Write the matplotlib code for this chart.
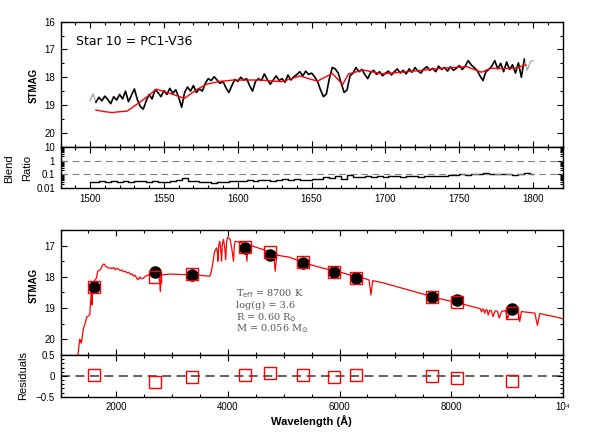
import numpy as np
import matplotlib
matplotlib.use('Agg')
import matplotlib.pyplot as plt
from matplotlib.ticker import MultipleLocator, FixedLocator, LogLocator, NullFormatter, FixedFormatter, FuncFormatter

plt.rcParams['font.family'] = ['Liberation Sans', 'DejaVu Sans']
plt.rcParams['axes.linewidth'] = 1.0

# ---------------- data ----------------
# UV spectrum (STMAG), 2 A sampling starting at 1500 A
spec_start = 1500
spec_step = 2
spec_mag = [18.85, 18.60, 18.90, 18.72, 18.85, 18.68, 18.80, 18.95, 18.70, 18.82,
            18.62, 18.78, 18.50, 18.88, 18.65, 18.42, 18.80, 19.05, 19.15, 18.85,
            18.62, 18.78, 18.45, 18.55, 18.70, 18.48, 18.62, 18.40, 18.58, 18.45,
            18.72, 19.08, 18.55, 18.35, 18.50, 18.30, 18.55, 18.42, 18.50, 18.22,
            18.05, 18.12, 17.98, 18.10, 18.22, 18.15, 18.38, 18.55, 18.30, 18.08,
            18.15, 18.00, 18.10, 18.05, 18.30, 18.50, 18.15, 18.05, 18.12, 17.88,
            18.08, 18.25, 18.10, 17.95, 18.12, 18.05, 18.18, 17.92, 18.10, 17.98,
            17.90, 17.80, 17.95, 17.78, 17.90, 17.85, 17.98, 18.15, 18.45, 18.70,
            18.60, 18.05, 17.65, 17.70, 17.85, 18.20, 18.55, 18.45, 17.95, 17.85,
            17.65, 17.80, 17.72, 17.90, 18.05, 17.82, 17.75, 17.90, 17.80, 17.95,
            17.85, 17.78, 17.92, 17.80, 17.70, 17.85, 17.75, 17.88, 17.70, 17.82,
            17.65, 17.78, 17.85, 17.70, 17.62, 17.75, 17.68, 17.80, 17.60, 17.72,
            17.65, 17.78, 17.62, 17.75, 17.68, 17.58, 17.72, 17.60, 17.40, 17.55,
            17.65, 17.75, 17.95, 18.12, 17.80, 17.72, 17.60, 17.40, 17.70, 17.50,
            17.80, 17.45, 17.72, 17.55, 17.85, 17.48, 18.00, 17.35, 17.75, 17.45,
            17.40]
good_range = (1504, 1794)

# model in UV panel
uvmod_wave = [1504, 1510, 1515, 1520, 1525, 1535, 1545, 1554, 1564, 1572, 1579, 1588,
              1597, 1615, 1630, 1642, 1648, 1654, 1664, 1671, 1675, 1685, 1698, 1710,
              1721, 1737, 1755, 1765, 1771, 1787, 1795]
uvmod_mag = [19.18, 19.24, 19.27, 19.24, 19.22, 18.85, 18.43, 18.58, 18.76, 18.45, 18.25, 18.15,
             18.10, 18.10, 18.16, 17.95, 18.05, 18.14, 17.86, 18.26, 17.88, 17.74, 17.88, 17.82,
             17.77, 17.68, 17.62, 17.82, 17.68, 17.68, 17.56]

# blend ratio, 4 A sampling starting at 1500 A
blend_start = 1500
blend_step = 4
blend_ratio = [0.030, 0.028, 0.033, 0.030, 0.035, 0.031, 0.034, 0.029, 0.036, 0.032,
               0.030, 0.034, 0.031, 0.029, 0.033, 0.038, 0.055, 0.036, 0.032, 0.030,
               0.028, 0.026, 0.030, 0.027, 0.032, 0.036, 0.033, 0.040, 0.034, 0.038,
               0.042, 0.036, 0.040, 0.044, 0.038, 0.045, 0.042, 0.040, 0.048, 0.050,
               0.070, 0.060, 0.075, 0.050, 0.085, 0.070, 0.065, 0.072, 0.068, 0.075,
               0.070, 0.078, 0.072, 0.065, 0.074, 0.080, 0.070, 0.078, 0.075, 0.082,
               0.078, 0.095, 0.090, 0.100, 0.092, 0.110, 0.100, 0.120, 0.105, 0.115,
               0.100, 0.112, 0.098, 0.115, 0.125, 0.110]

# model SED
sed_wave = [1310, 1330, 1345, 1360, 1375, 1390, 1410, 1440, 1470, 1500, 1525, 1535, 1550,
            1560, 1567, 1572, 1594, 1620, 1643, 1667, 1690, 1715, 1745, 1774, 1790, 1804,
            1830, 1860, 1893, 1920, 1950, 1982, 2010, 2040, 2071, 2100, 2130, 2160, 2191,
            2220, 2250, 2280, 2309, 2340, 2370, 2397, 2420, 2450, 2487, 2520, 2560, 2606,
            2650, 2700, 2760, 2780, 2790, 2800, 2843, 2963, 3100, 3300, 3500, 3676, 3700,
            3734, 3760, 3795, 3810, 3820, 3835, 3854, 3870, 3886, 3900, 3920, 3945, 3960,
            3975, 3993, 4010, 4040, 4070, 4100, 4115, 4130, 4250, 4320, 4340, 4360, 4400,
            4550, 4687, 4820, 4848, 4875, 4890, 5100, 5280, 5500, 5700, 5980, 6200, 6450,
            6530, 6563, 6595, 6800, 7000, 7400, 7775, 8100, 8488, 8525, 8545, 8565, 8580,
            8600, 8625, 8645, 8665, 8690, 8720, 8750, 8790, 8830, 8863, 8905, 8975, 9015,
            9060, 9150, 9200, 9229, 9260, 9350, 9500, 9546, 9590, 9700, 9850, 10000]
sed_mag = [20.55, 20.20, 20.00, 20.05, 20.12, 19.90, 19.65, 19.50, 19.28, 19.25, 19.20, 18.90, 18.55,
           18.40, 18.90, 18.35, 18.20, 18.10, 18.04, 17.82, 17.80, 17.77, 17.65, 17.59, 17.60, 17.66,
           17.68, 17.72, 17.71, 17.74, 17.70, 17.77, 17.72, 17.76, 17.80, 17.78, 17.84, 17.82, 17.87,
           17.85, 17.92, 17.90, 17.98, 17.95, 18.06, 18.09, 18.00, 18.06, 18.04, 17.98, 17.95, 17.93,
           17.96, 17.97, 17.95, 18.20, 18.46, 17.95, 17.93, 17.91, 17.92, 17.93, 17.95, 17.98, 17.85,
           17.50, 17.20, 17.07, 17.20, 17.50, 17.00, 16.86, 17.10, 17.50, 16.95, 16.80, 17.10, 17.45,
           16.90, 16.73, 16.75, 16.80, 17.10, 17.50, 17.00, 16.86, 16.91, 16.95, 17.50, 16.98, 16.99,
           17.08, 17.16, 17.25, 17.82, 17.28, 17.31, 17.37, 17.49, 17.62, 17.72, 17.83, 17.95, 18.05,
           18.10, 18.58, 18.12, 18.20, 18.30, 18.50, 18.69, 18.82, 19.00, 19.02, 19.12, 19.03, 19.04,
           19.16, 19.05, 19.06, 19.22, 19.07, 19.08, 19.27, 19.09, 19.10, 19.32, 19.10, 19.08, 19.33,
           19.07, 19.08, 19.10, 19.43, 19.11, 19.13, 19.16, 19.55, 19.17, 19.22, 19.27, 19.34]

# photometry
phot_wave = [1600, 2700, 3350, 4300, 4750, 5350, 5900, 6300, 7650, 8100, 9100]
phot_obs = [18.33, 17.83, 17.94, 17.08, 17.30, 17.56, 17.83, 18.05, 18.63, 18.74, 19.03]
phot_model = [18.32, 18.01, 17.92, 17.03, 17.22, 17.54, 17.83, 18.03, 18.63, 18.80, 19.17]
phot_resid = [0.02, -0.15, -0.02, 0.03, 0.08, 0.03, -0.02, 0.02, -0.01, -0.06, -0.12]

star_title = "Star 10 = PC1-V36"
param_lines = [r"T$_{\rm eff}$ = 8700 K", "log(g) = 3.6",
               r"R = 0.60 R$_{\odot}$", r"M = 0.056 M$_{\odot}$"]

# ---------------- figure ----------------
fig = plt.figure(figsize=(5.98, 4.47), dpi=100)
L, W = 0.1012, 0.8398
ax1 = fig.add_axes([L, 0.6718, W, 0.2797])
ax2 = fig.add_axes([L, 0.5787, W, 0.0931])
ax3 = fig.add_axes([L, 0.2058, W, 0.2797])
ax4 = fig.add_axes([L, 0.1125, W, 0.0933])

def style(ax):
    ax.tick_params(which='both', direction='in', top=True, right=True, labelsize=7,
                   width=0.8, pad=4)
    ax.tick_params(which='major', length=4)
    ax.tick_params(which='minor', length=2)

for ax in (ax1, ax2, ax3, ax4):
    style(ax)

# --- top panel
sw = spec_start + spec_step * np.arange(len(spec_mag))
sm = np.array(spec_mag)
good = (sw >= good_range[0]) & (sw <= good_range[1])
lo = sw <= good_range[0]
hi = sw >= good_range[1]
ax1.plot(sw[lo], sm[lo], color='#aaaaaa', lw=1.0)
ax1.plot(sw[hi], sm[hi], color='#aaaaaa', lw=1.0)
ax1.plot(sw[good], sm[good], color='black', lw=1.2)
ax1.plot(uvmod_wave, uvmod_mag, color='red', lw=1.0)
ax1.set_xlim(1480, 1820)
ax1.set_ylim(20.5, 16)
ax1.xaxis.set_major_locator(MultipleLocator(50))
ax1.xaxis.set_minor_locator(MultipleLocator(10))
ax1.yaxis.set_major_locator(MultipleLocator(1))
ax1.yaxis.set_minor_locator(MultipleLocator(0.5))
ax1.tick_params(labelbottom=False)
ax1.set_ylabel("STMAG", fontsize=7, fontweight='bold')
ax1.yaxis.set_label_coords(-0.044, 0.49)
ax1.text(0.031, 0.838, star_title, transform=ax1.transAxes, fontsize=9,
         family='DejaVu Sans', va='center', ha='left')

# --- blend panel
bw = blend_start + blend_step * np.arange(len(blend_ratio))
ax2.set_yscale('log')
ax2.plot(bw, blend_ratio, color='black', lw=1.0, drawstyle='steps-mid')
ax2.axhline(1, color='gray', lw=0.8, ls=(0, (6, 4)))
ax2.axhline(0.1, color='gray', lw=0.8, ls=(0, (6, 4)))
ax2.set_xlim(1480, 1820)
ax2.set_ylim(0.01, 10)
ax2.xaxis.set_major_locator(MultipleLocator(50))
ax2.xaxis.set_minor_locator(MultipleLocator(10))
ax2.xaxis.set_major_formatter(FuncFormatter(lambda v, p: "%d" % v if 1500 <= v <= 1800 else ""))
ax2.yaxis.set_major_locator(FixedLocator([0.01, 0.1, 1, 10]))
ax2.yaxis.set_major_formatter(FixedFormatter(["0.01", "0.1", "1", "10"]))
ax2.yaxis.set_minor_locator(LogLocator(base=10, subs=np.arange(2, 10)))
ax2.yaxis.set_minor_formatter(NullFormatter())
ax2.set_ylabel("Blend\nRatio", fontsize=8, linespacing=2.0)
ax2.yaxis.set_label_coords(-0.056, 0.48)

# --- SED panel
ax3.plot(sed_wave, sed_mag, color='red', lw=0.9, zorder=2)
ax3.plot(phot_wave, phot_obs, 'o', color='black', ms=8, zorder=3)
ax3.plot(phot_wave, phot_model, 's', mfc='none', mec='red', ms=9, mew=1.0, zorder=4)
ax3.set_xlim(1000, 10000)
ax3.set_ylim(20.5, 16.5)
ax3.xaxis.set_major_locator(MultipleLocator(2000))
ax3.xaxis.set_minor_locator(MultipleLocator(500))
ax3.yaxis.set_major_locator(MultipleLocator(1))
ax3.yaxis.set_minor_locator(MultipleLocator(0.5))
ax3.tick_params(labelbottom=False)
ax3.set_ylabel("STMAG", fontsize=7, fontweight='bold')
ax3.yaxis.set_label_coords(-0.044, 0.56)
for i, t in enumerate(param_lines):
    ax3.text(0.35, 0.49 - i * 0.094, t, transform=ax3.transAxes, fontsize=7,
             color='#555555', family='DejaVu Serif', va='center', ha='left')

# --- residuals
ax4.axhline(0, color='#555555', lw=1.3, ls=(0, (5, 3)), zorder=1)
ax4.plot(phot_wave, phot_resid, 's', mfc='none', mec='red', ms=9, mew=1.0, zorder=3)
ax4.set_xlim(1000, 10000)
ax4.set_ylim(-0.5, 0.5)
ax4.xaxis.set_major_locator(MultipleLocator(2000))
ax4.xaxis.set_minor_locator(MultipleLocator(500))
ax4.xaxis.set_major_formatter(FuncFormatter(lambda v, p: "10\u2074" if v == 10000 else ("%d" % v if v > 1000 else "")))
ax4.yaxis.set_major_locator(MultipleLocator(0.5))
ax4.yaxis.set_minor_locator(MultipleLocator(0.1))
ax4.yaxis.set_major_formatter(FuncFormatter(lambda v, p: "0" if abs(v) < 1e-9 else ("%.1f" % v).replace("-", "\u2212")))
ax4.set_ylabel("Residuals", fontsize=8)
ax4.yaxis.set_label_coords(-0.065, 0.5)
ax4.set_xlabel("Wavelength (\u00c5)", fontsize=8, fontweight='bold', labelpad=2)

fig.savefig("out.png", dpi=100)
